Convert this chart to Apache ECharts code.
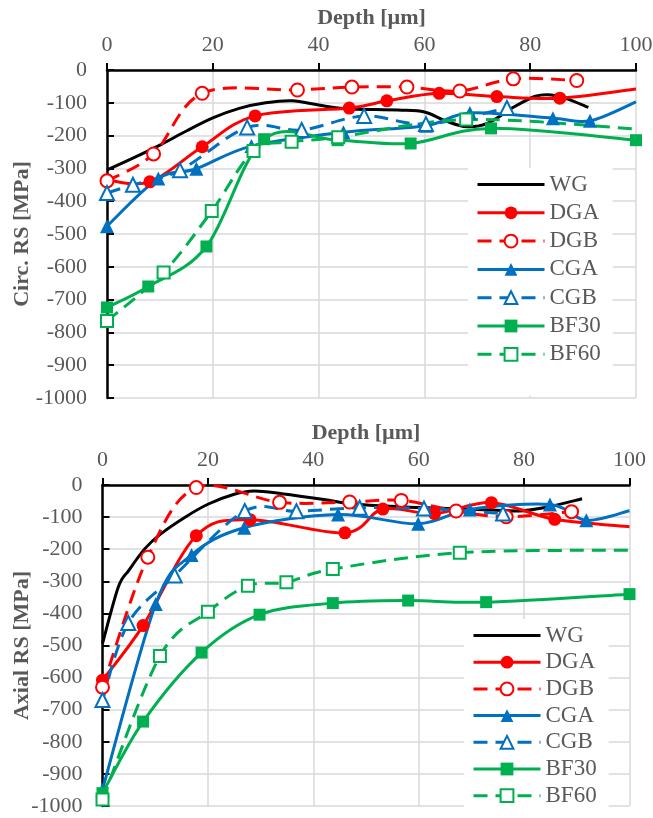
<!DOCTYPE html>
<html><head><meta charset="utf-8">
<script src="https://cdn.jsdelivr.net/npm/echarts@6/dist/echarts.min.js"></script>
<style>html,body{margin:0;padding:0;background:#fff}#c{width:653px;height:818px}</style>
</head><body><div id="c"></div>
<script>
// ---------- DATA ----------
const seriesNames = ['WG','DGA','DGB','CGA','CGB','BF30','BF60'];
const xTicks = [0,20,40,60,80,100];

// Circumferential RS (top plot)
const circ_WG_x   = [0,5,10,15,20,25,30,35,40,45,55,60,64,68,72,77,81,84,87,91];
const circ_WG_y   = [-305,-268,-229,-186,-146,-117,-100,-94,-107,-118,-122,-128,-155,-173,-162,-112,-80,-76,-88,-114];
const circ_DGA_x  = [0,8.1,18,28,45.8,52.9,62.8,73.7,85.6,100];
const circ_DGA_y  = [-335,-341,-234,-140,-116,-94,-71,-81,-86,-58];
const circ_DGB_x  = [0,8.8,18,36,46.3,56.7,66.7,76.8,88.8];
const circ_DGB_y  = [-338,-256,-71,-61,-52,-52,-64,-27,-32];
const circ_CGA_x  = [0,9.7,16.9,27.3,44.7,60.3,68.6,84.3,91.3,100];
const circ_CGA_y  = [-476,-331,-301,-232,-190,-170,-131,-147,-155,-97];
const circ_CGB_x  = [0,4.9,13.8,26.5,36.8,48.6,60.3,75.6];
const circ_CGB_y  = [-375,-350,-306,-175,-183,-140,-165,-116];
const circ_BF30_x = [0,7.8,18.8,29.7,43.6,57.4,72.6,100];
const circ_BF30_y = [-724,-660,-538,-211,-214,-224,-178,-214];
const circ_BF60_x = [0,10.7,19.8,27.7,34.9,43.7,67.9,100];
const circ_BF60_y = [-765,-617,-430,-247,-219,-205,-151,-180];

// Axial RS (bottom plot)
const ax_WG_x   = [0,3,5,8,11,15.6,20,25,28.8,34,42,46,52.5,60,67.7,74,79,84,91];
const ax_WG_y   = [-494,-318,-266,-199,-153,-101,-60,-29,-19,-27,-45,-56,-65,-70,-75,-78,-81,-70,-43];
const ax_DGA_x  = [0,7.7,17.8,28,46,53.2,63,73.8,85.8,100];
const ax_DGA_y  = [-608,-438,-158,-108,-149,-75,-89,-55,-107,-130];
const ax_DGB_x  = [0,8.6,17.8,33.6,46.9,56.7,67.1,76.6,89];
const ax_DGB_y  = [-630,-225,-8,-54,-53,-48,-81,-99,-83];
const ax_CGA_x  = [0,10.1,16.9,26.9,44.7,59.9,69.7,84.9,91.8,100];
const ax_CGA_y  = [-949,-371,-218,-133,-92,-121,-76,-61,-110,-80];
const ax_CGB_x  = [0,4.9,13.7,27,36.8,48.8,61,76];
const ax_CGB_y  = [-670,-430,-282,-81,-82,-71,-73,-89];
const ax_BF30_x = [0,7.7,18.8,29.8,43.7,58,72.8,100];
const ax_BF30_y = [-960,-737,-522,-404,-368,-360,-365,-340];
const ax_BF60_x = [0,10.9,20,27.6,34.9,43.7,67.8,100];
const ax_BF60_y = [-980,-533,-395,-314,-303,-262,-211,-203];

// series whose last point (at the axis edge) shows no marker
const unmarkedLast = ['DGA','CGA','BF60'];

// ---------- STYLE ----------
const FONT = 'Liberation Serif';
const TXT = '#595959';
const TENSION = 1/6;
const STY = {
  WG:   {color:'#000000', dash:null,   symbol:'none', size:0},
  DGA:  {color:'#FF0000', dash:null,   symbol:'circle', size:13},
  DGB:  {color:'#FF0000', dash:[14,8], symbol:'emptyCircle', size:13},
  CGA:  {color:'#0070C0', dash:null,   symbol:'triangle', size:14},
  CGB:  {color:'#0070C0', dash:[14,8], symbol:'emptyTriangle', size:14},
  BF30: {color:'#00B050', dash:null,   symbol:'rect', size:12},
  BF60: {color:'#00B050', dash:[14,8], symbol:'emptyRect', size:12}
};

const plots = [
  {WG:[circ_WG_x,circ_WG_y],DGA:[circ_DGA_x,circ_DGA_y],DGB:[circ_DGB_x,circ_DGB_y],CGA:[circ_CGA_x,circ_CGA_y],CGB:[circ_CGB_x,circ_CGB_y],BF30:[circ_BF30_x,circ_BF30_y],BF60:[circ_BF60_x,circ_BF60_y]},
  {WG:[ax_WG_x,ax_WG_y],DGA:[ax_DGA_x,ax_DGA_y],DGB:[ax_DGB_x,ax_DGB_y],CGA:[ax_CGA_x,ax_CGA_y],CGB:[ax_CGB_x,ax_CGB_y],BF30:[ax_BF30_x,ax_BF30_y],BF60:[ax_BF60_x,ax_BF60_y]}
];

// Excel-like smoothed curve (Catmull-Rom style Bezier) through pixel points
function smoothPath(p){
  let d = 'M' + p[0][0] + ' ' + p[0][1];
  for (let i = 0; i < p.length - 1; i++){
    const a = p[i-1] || p[i], b = p[i], c = p[i+1], e = p[i+2] || p[i+1];
    const c1x = b[0] + (c[0]-a[0])*TENSION, c1y = b[1] + (c[1]-a[1])*TENSION;
    const c2x = c[0] - (e[0]-b[0])*TENSION, c2y = c[1] - (e[1]-b[1])*TENSION;
    d += ' C' + c1x + ' ' + c1y + ' ' + c2x + ' ' + c2y + ' ' + c[0] + ' ' + c[1];
  }
  return d;
}

const series = [];
plots.forEach((pd, gi) => {
  seriesNames.forEach(name => {
    const s = STY[name];
    const xs = pd[name][0], ys = pd[name][1];
    const n = xs.length;
    // curve
    series.push({
      type:'custom', name:'curve_'+gi+'_'+name, coordinateSystem:'cartesian2d',
      xAxisIndex:gi, yAxisIndex:gi, silent:true, animation:false,
      data: xs.map((x,i)=>[x, ys[i]]), encode:{x:0, y:1},
      renderItem:(params, api) => {
        if (params.dataIndex !== 0) return;
        const pts = xs.map((x,i)=>api.coord([x, ys[i]]));
        return {type:'path', shape:{pathData:smoothPath(pts)},
          style:{stroke:s.color, lineWidth:3, fill:'none', lineDash:s.dash, lineCap:'butt', lineJoin:'round'}};
      }
    });
    // markers (and legend entry)
    const data = xs.map((x, i) => {
      const item = {value:[x, ys[i]]};
      if (unmarkedLast.includes(name) && i === n - 1) item.symbol = 'none';
      return item;
    });
    series.push({
      name, type:'line', xAxisIndex:gi, yAxisIndex:gi, data,
      smooth:false, symbol:s.symbol, symbolSize:s.size, showSymbol:s.symbol !== 'none',
      lineStyle:{color:s.color, width:3, opacity:0},
      itemStyle:{color:s.color, borderColor:s.color, borderWidth: s.symbol.indexOf('empty')===0 ? 2.2 : 0},
      emphasis:{disabled:true}, animation:false, silent:true
    });
  });
});

function xAxis(gi){
  return {
    gridIndex:gi, type:'value', position:'top', min:0, max:100, interval:20,
    name:'Depth [µm]', nameLocation:'middle', nameGap:41, nameMoveOverlap:false,
    nameTextStyle:{fontFamily:FONT, fontSize:22, fontWeight:'bold', color:TXT},
    axisLine:{show:true, onZero:false, lineStyle:{color:'#000', width:2.5}},
    axisTick:{show:true, inside:false, length:7, lineStyle:{color:'#000', width:2}},
    axisLabel:{margin:14, fontFamily:FONT, fontSize:22, color:TXT, formatter:v => xTicks.includes(v) ? String(v) : ''},
    splitLine:{show:true, lineStyle:{color:'#D9D9D9', width:1.5}}
  };
}
function yAxis(gi, title, gap){
  return {
    gridIndex:gi, type:'value', min:-1000, max:0, interval:100,
    name:title, nameLocation:'middle', nameRotate:90, nameGap:gap, nameMoveOverlap:false,
    nameTextStyle:{fontFamily:FONT, fontSize:22, fontWeight:'bold', color:TXT},
    axisLine:{show:true, onZero:false, lineStyle:{color:'#000', width:2.5}},
    axisTick:{show:true, inside:true, length:7, lineStyle:{color:'#000', width:2}},
    axisLabel:{margin:20, fontFamily:FONT, fontSize:22, color:TXT, formatter:v => String(v)},
    splitLine:{show:true, lineStyle:{color:'#D9D9D9', width:1.5}}
  };
}
function legend(left, top, gap, padBottom){
  return {
    orient:'vertical', left, top, itemWidth:67, itemHeight:16, itemGap:gap,
    data:seriesNames.map(nm => {
      const s = STY[nm];
      const item = {name:nm, lineStyle:{color:s.color, width:3, opacity:1, type: s.dash ? s.dash : 'solid'}};
      if (s.symbol === 'none') item.itemStyle = {opacity:0};
      return item;
    }),
    backgroundColor:'#ffffff', padding:[5,12,padBottom,8],
    textStyle:{fontFamily:FONT, fontSize:23, color:TXT, lineHeight:22},
    selectedMode:false
  };
}

const chart = echarts.init(document.getElementById('c'), null, {renderer:'canvas'});
chart.setOption({
  backgroundColor:'#ffffff',
  animation:false,
  grid:[
    {left:107, top:70, width:529, height:328, outerBoundsMode:'none', containLabel:false},
    {left:102.5, top:485, width:527, height:321, outerBoundsMode:'none', containLabel:false}
  ],
  xAxis:[xAxis(0), xAxis(1)],
  yAxis:[yAxis(0,'Circ. RS [MPa]',74), yAxis(1,'Axial RS [MPa]',69)],
  legend:[legend(468,168,5.3,30), legend(464,619,3.7,9)],
  series
});
</script></body></html>
